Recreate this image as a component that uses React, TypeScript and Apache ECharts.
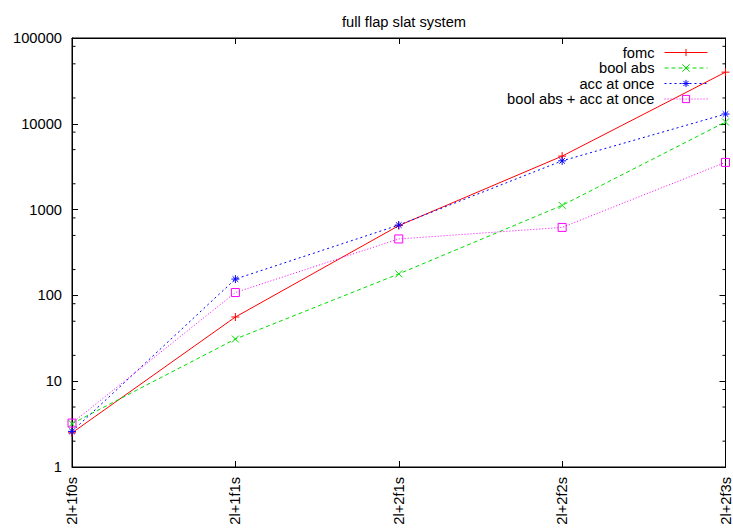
import React, { useEffect, useRef } from "react";
import * as echarts from "echarts";

const categories = ["2l+1f0s", "2l+1f1s", "2l+2f1s", "2l+2f2s", "2l+2f3s"];
const fomc = [2.5, 56, 650, 4200, 40000];
const boolAbs = [3.2, 31, 178, 1120, 10500];
const accAtOnce = [2.6, 155, 660, 3700, 13000];
const boolAbsAcc = [3.25, 108, 455, 620, 3550];
const minorTickValues = [
  2, 5, 8, 20, 50, 80, 200, 500, 800, 2000, 5000, 8000, 20000, 50000, 80000,
];

const FONT = "Liberation Sans, Arial, Helvetica, sans-serif";
const FS = 14.7;

const PLUS = "path://M5,0L5,10M0,5L10,5";
const CROSS = "path://M0,0L10,10M10,0L0,10";
const STAR = "path://M5,0L5,10M0,5L10,5M1.5,1.5L8.5,8.5M8.5,1.5L1.5,8.5";
const SQUARE = "path://M0,0L10,0L10,10L0,10Z";

function mkSeries(name: string, data: number[], color: string, symbol: string, dash: any, size: number) {
  return {
    name,
    type: "line",
    data,
    symbol,
    symbolSize: size,
    showSymbol: true,
    lineStyle: { color, width: 1, type: dash },
    itemStyle: { color: "rgba(0,0,0,0)", borderColor: color, borderWidth: 1 },
    emphasis: { disabled: true },
    z: 3,
  };
}

export default function App() {
  const ref = useRef<HTMLDivElement>(null);
  useEffect(() => {
    if (!ref.current) return;
    const chart = echarts.init(ref.current, null, { renderer: "svg" });
    const gridLeft = 72;
    const gridRight = 7;
    const gridTop = 38;
    const gridBottom = 62;
    const fmt = (v: number) => String(Math.round(v));
    chart.setOption({
      animation: false,
      backgroundColor: "#fff",
      textStyle: { fontFamily: FONT },
      title: {
        text: "full flap slat system",
        left: 399,
        textAlign: "center",
        top: 9,
        textStyle: { fontFamily: FONT, fontSize: FS, fontWeight: "normal", color: "#000" },
      },
      legend: {
        orient: "vertical",
        right: 20,
        top: 40,
        align: "right",
        itemWidth: 43,
        itemHeight: 9,
        itemGap: 0.5,
        lineStyle: { width: 1 },
        itemStyle: { borderWidth: 1 },
        textStyle: { fontFamily: FONT, fontSize: FS, color: "#000", lineHeight: 15, padding: [0, 5, 0, 0] },
        selectedMode: false,
      },
      grid: {
        left: gridLeft,
        right: gridRight,
        top: gridTop,
        bottom: gridBottom,
        show: true,
        borderColor: "#000",
        borderWidth: 1,
        containLabel: false,
      },
      xAxis: [
        {
          type: "category",
          data: categories,
          boundaryGap: false,
          position: "bottom",
          axisLine: { lineStyle: { color: "#000", width: 1 } },
          axisTick: { inside: true, length: 6, lineStyle: { color: "#000" } },
          axisLabel: { rotate: 90, margin: 10, fontFamily: FONT, fontSize: FS, color: "#000" },
          splitLine: { show: false },
        },
        {
          type: "category",
          data: categories,
          boundaryGap: false,
          position: "top",
          axisLine: { lineStyle: { color: "#000", width: 1 } },
          axisTick: { inside: true, length: 6, lineStyle: { color: "#000" } },
          axisLabel: { show: false },
          splitLine: { show: false },
        },
      ],
      yAxis: [
        {
          type: "log",
          logBase: 10,
          min: 1,
          max: 100000,
          position: "left",
          axisLine: { show: true, lineStyle: { color: "#000", width: 1 } },
          axisTick: { show: true, inside: true, length: 6, lineStyle: { color: "#000" } },
          axisLabel: { margin: 10, fontFamily: FONT, fontSize: FS, color: "#000", formatter: fmt },
          splitLine: { show: false },
        },
        {
          type: "log",
          logBase: 10,
          min: 1,
          max: 100000,
          position: "right",
          axisLine: { show: true, lineStyle: { color: "#000", width: 1 } },
          axisTick: { show: true, inside: true, length: 6, lineStyle: { color: "#000" } },
          axisLabel: { show: false },
          splitLine: { show: false },
        },
      ],
      series: [
        mkSeries("fomc", fomc, "#ff0000", PLUS, "solid", 8),
        mkSeries("bool abs", boolAbs, "#00dd00", CROSS, [4, 3], 7),
        mkSeries("acc at once", accAtOnce, "#0000ff", STAR, [2, 3], 8),
        mkSeries("bool abs + acc at once", boolAbsAcc, "#ff00ff", SQUARE, [1, 2], 8),
      ],
    });

    const width = ref.current.clientWidth;
    const xl = gridLeft;
    const xr = width - gridRight;
    const graphics: any[] = [];
    minorTickValues.forEach((v) => {
      const y = chart.convertToPixel({ yAxisIndex: 0 } as any, v) as number;
      const len = 3.5;
      graphics.push({
        type: "line",
        shape: { x1: xl, y1: y, x2: xl + len, y2: y },
        style: { stroke: "#000", lineWidth: 1 },
        silent: true,
      });
      graphics.push({
        type: "line",
        shape: { x1: xr, y1: y, x2: xr - len, y2: y },
        style: { stroke: "#000", lineWidth: 1 },
        silent: true,
      });
    });
    chart.setOption({ graphic: graphics });

    return () => chart.dispose();
  }, []);
  return <div ref={ref} style={{ width: 733, height: 529, position: "absolute", left: 0, top: 0 }} />;
}
